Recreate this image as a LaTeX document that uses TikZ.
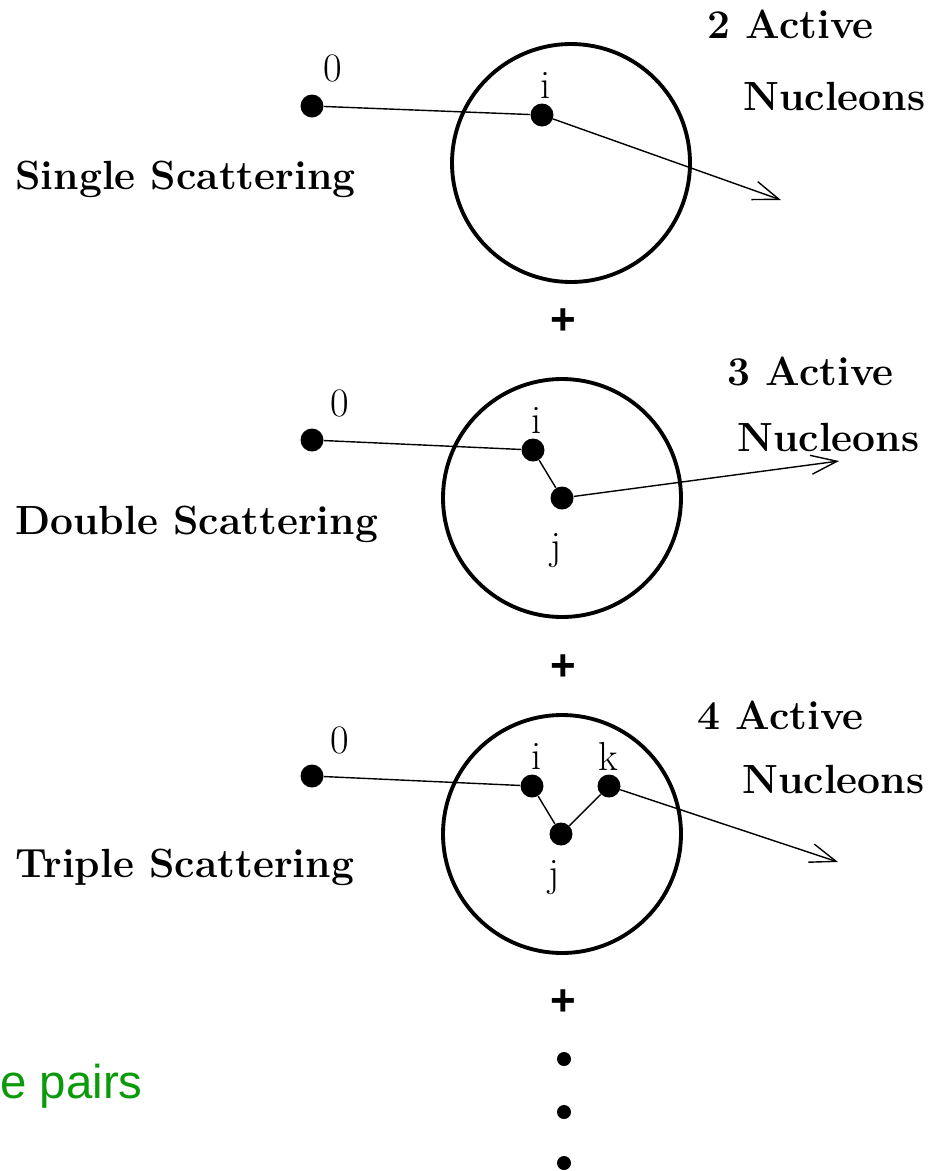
\documentclass[tikz,border=0pt]{standalone}
\usepackage{fontspec}
\usepackage{tikz}
\usetikzlibrary{arrows.meta,positioning}
\newfontfamily\notefont{Liberation Sans}
\definecolor{ink}{HTML}{000000}
\definecolor{note}{HTML}{0A9A0A}

\begin{document}
\begin{tikzpicture}[x=0.02cm, y=-0.02cm,
  nucleus/.style={circle, draw=ink, line width=2.2pt, minimum size=4.76cm, inner sep=0pt},
  hit/.style={circle, fill=ink, minimum size=0.46cm, inner sep=0pt},
  more/.style={circle, fill=ink, minimum size=0.28cm, inner sep=0pt},
  idx/.style={font=\fontsize{23}{27}\selectfont, inner sep=0pt},
  title/.style={font=\fontsize{23.2}{27}\selectfont\bfseries, anchor=base west, inner sep=0pt},
  plus/.style={font=\notefont\fontsize{25}{28}\selectfont\bfseries, inner sep=0pt},
  link/.style={draw=ink, line width=0.8pt},
  exit/.style={link, -{Straight Barb[length=0.52cm, width=0.38cm]}}]
  \useasboundingbox (0,0) rectangle (938,1171);

  % single scattering
  \node[nucleus] (nuc1) at (571,163) {};
  \node[hit] (a0) at (312,106) {};
  \node[hit] (ai) at (542,115) {};
  \node[idx] (a0l) at (333,68) {0};
  \node[idx] (ail) at (546,85) {i};
  \coordinate (t1) at (781,200);
  \draw[link] (a0) -- (ai);
  \draw[exit] (ai) -- (t1);
  \node[title] (s1) at (15,189) {Single Scattering};
  \node[title] (a1) at (707,38) {2 Active};
  \node[title] (n1) at (743,110) {Nucleons};
  \node[plus] (p1) at (563,322) {+};

  % double scattering
  \node[nucleus] (nuc2) at (562,498) {};
  \node[hit] (b0) at (312,440) {};
  \node[hit] (bi) at (533,450) {};
  \node[hit] (bj) at (562,498) {};
  \node[idx] (b0l) at (340,403) {0};
  \node[idx] (bil) at (537,420) {i};
  \node[idx] (bjl) at (556,551) {j};
  \coordinate (t2) at (839,461);
  \draw[link] (b0) -- (bi);
  \draw[link] (bi) -- (bj);
  \draw[exit] (bj) -- (t2);
  \node[title] (s2) at (15,534) {Double Scattering};
  \node[title] (a2) at (727,385) {3 Active};
  \node[title] (n2) at (737,451) {Nucleons};
  \node[plus] (p2) at (563,668) {+};

  % triple scattering
  \node[nucleus] (nuc3) at (562,834) {};
  \node[hit] (c0) at (312,776) {};
  \node[hit] (ci) at (532,786) {};
  \node[hit] (ck) at (609,786) {};
  \node[hit] (cj) at (561,834) {};
  \node[idx] (c0l) at (340,740) {0};
  \node[idx] (cil) at (537,756) {i};
  \node[idx] (ckl) at (608,756) {k};
  \node[idx] (cjl) at (554,878) {j};
  \coordinate (t3) at (838,862);
  \draw[link] (c0) -- (ci);
  \draw[link] (ci) -- (cj);
  \draw[link] (cj) -- (ck);
  \draw[exit] (ck) -- (t3);
  \node[title] (s3) at (15,877) {Triple Scattering};
  \node[title] (a3) at (697,729) {4 Active};
  \node[title] (n3) at (742,793) {Nucleons};
  \node[plus] (p3) at (563,1003) {+};

  % and so on
  \node[more] (d1) at (564,1059) {};
  \node[more] (d2) at (564,1112) {};
  \node[more] (d3) at (564,1163) {};
  \node[note, font=\notefont\fontsize{27}{32}\selectfont, anchor=base west, inner sep=0pt] (pairs) at (0,1098) {e pairs};
\end{tikzpicture}
\end{document}
